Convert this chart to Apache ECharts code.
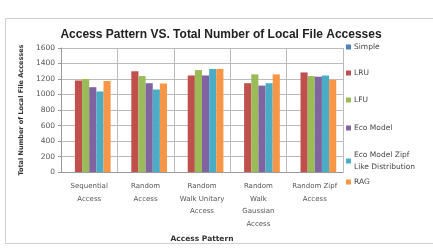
<!DOCTYPE html>
<html>
<head>
<meta charset="utf-8">
<script src="https://cdn.jsdelivr.net/npm/echarts@6/dist/echarts.min.js"></script>
<style>
  html, body { margin: 0; padding: 0; background: #fff; }
  #frame { position: absolute; left: 5px; top: 18px; width: 440px; height: 224px; border: 1px solid #d0d0d0; }
  #chart { width: 433px; height: 248px; }
</style>
</head>
<body>
<div id="frame"></div>
<div id="chart"></div>
<script>
const categories = ['Sequential\nAccess', 'Random\nAccess', 'Random\nWalk Unitary\nAccess', 'Random\nWalk\nGaussian\nAccess', 'Random Zipf\nAccess']
const seriesNames = ['Simple', 'LRU', 'LFU', 'Eco Model', 'Eco Model Zipf\nLike Distribution', 'RAG']
const simple = [0, 0, 0, 0, 0]
const lru = [1180, 1300, 1246, 1146, 1285]
const lfu = [1200, 1238, 1315, 1260, 1238]
const ecoModel = [1095, 1146, 1246, 1115, 1230]
const ecoZipf = [1040, 1065, 1330, 1146, 1246]
const rag = [1175, 1142, 1330, 1260, 1190]
const colors = ['#4F81BD', '#C0504D', '#9BBB59', '#8064A2', '#4BACC6', '#F79646']

const allData = [simple, lru, lfu, ecoModel, ecoZipf, rag]
// legend rows (top of each item), one small legend per series
const legendTops = [41, 67, 94, 122, 149, 176]

var myChart = echarts.init(document.getElementById('chart'))
myChart.setOption({
    animation: false,
    title: {
        text: 'Access Pattern VS. Total Number of Local File Accesses',
        left: 216,
        textAlign: 'center',
        top: 24,
        textStyle: { fontFamily: 'Liberation Sans', fontWeight: 'bold', fontSize: 12, color: '#222' }
    },
    legend: seriesNames.map((name, i) => ({
        orient: 'vertical',
        left: 346,
        top: legendTops[i],
        padding: 0,
        itemWidth: 5,
        itemHeight: 5,
        icon: 'rect',
        data: [name],
        textStyle: { fontFamily: 'DejaVu Sans', fontSize: 7.5, color: '#444', lineHeight: 12, padding: [0, 0, 0, -2] }
    })),
    grid: {
        left: 61,
        right: 90,
        top: 48,
        bottom: 72
    },
    xAxis: {
        type: 'category',
        data: categories,
        name: 'Access Pattern',
        nameLocation: 'middle',
        nameGap: 50,
        nameTextStyle: { fontFamily: 'DejaVu Sans', fontWeight: 'bold', fontSize: 7.5, color: '#333' },
        axisLine: { lineStyle: { color: '#999' } },
        axisTick: { show: false },
        axisLabel: { fontFamily: 'DejaVu Sans', fontSize: 7, color: '#555', lineHeight: 12.5, interval: 0, margin: 8 },
        splitLine: { show: true, lineStyle: { color: '#bbb' } }
    },
    yAxis: {
        type: 'value',
        min: 0,
        max: 1600,
        interval: 200,
        name: 'Total Number of Local File Accesses',
        nameLocation: 'middle',
        nameGap: 30,
        nameTextStyle: { fontFamily: 'DejaVu Sans', fontWeight: 'bold', fontSize: 6.5, color: '#333' },
        axisLine: { show: true, lineStyle: { color: '#999' } },
        axisTick: { show: true, length: 3, lineStyle: { color: '#999' } },
        axisLabel: { fontFamily: 'DejaVu Sans', fontSize: 7.5, color: '#555', margin: 6, formatter: v => String(v) },
        splitLine: { lineStyle: { color: '#bbb' } }
    },
    series: seriesNames.map((name, i) => ({
        name: name,
        type: 'bar',
        data: allData[i],
        barGap: '0%',
        barCategoryGap: '24%',
        itemStyle: { color: colors[i] }
    }))
})
</script>
</body>
</html>
